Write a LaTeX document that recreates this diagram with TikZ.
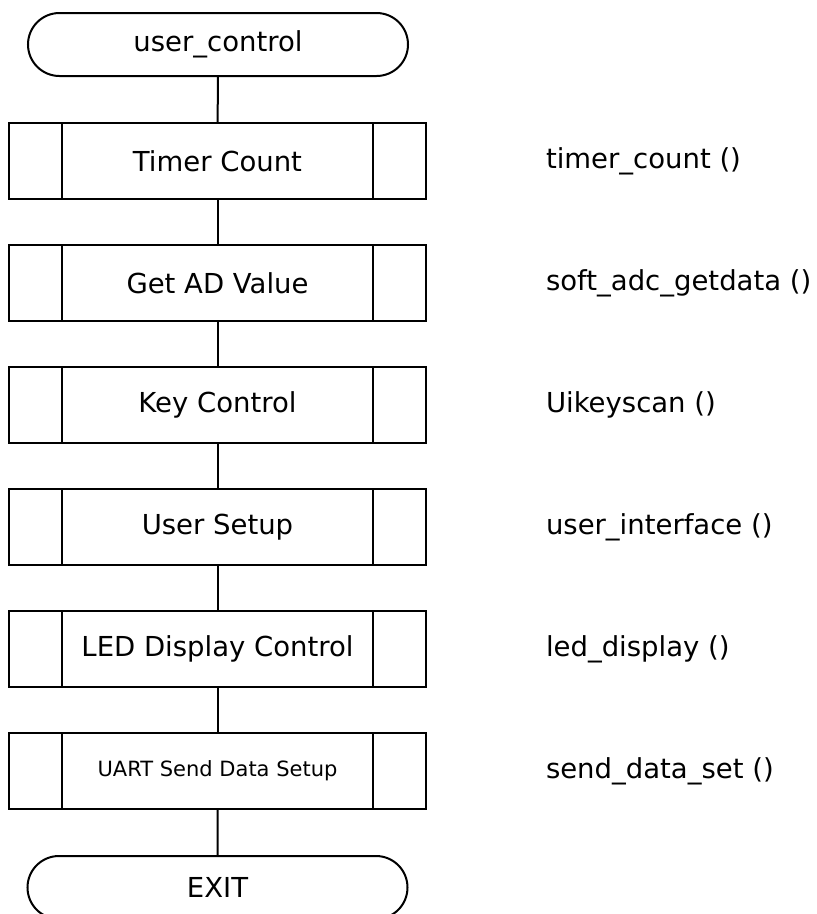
\documentclass[tikz,border=0pt]{standalone}
\usepackage{fontspec}
\setmainfont{DejaVu Sans}
\usetikzlibrary{shapes.misc}

\tikzset{
  term/.style={draw, rounded rectangle, minimum width=380pt, minimum height=63pt, inner sep=0pt},
  subr/.style={draw, rectangle, minimum width=417pt, minimum height=76pt, inner sep=0pt,
    path picture={\draw ([xshift=53pt]path picture bounding box.north west) -- ([xshift=53pt]path picture bounding box.south west);
                  \draw ([xshift=-53pt]path picture bounding box.north east) -- ([xshift=-53pt]path picture bounding box.south east);}},
  fname/.style={anchor=west, inner sep=0pt}
}

\begin{document}
\begin{tikzpicture}[x=1pt, y=-1pt, line width=2pt, font=\fontsize{27.5}{32}\selectfont]
\useasboundingbox (0,0) rectangle (817,914);

\node[term] (start) at (218,44.5) {user\_control};

\node[subr] (timer) at (217.5,161) {Timer Count};
\node[subr] (getad) at (217.5,283) {Get AD Value};
\node[subr] (key) at (217.5,405) {Key Control};
\node[subr] (setup) at (217.5,527) {User Setup};
\node[subr] (led) at (217.5,649) {LED Display Control};
\node[subr, font=\fontsize{21}{25}\selectfont] (uart) at (217.5,771) {UART Send Data Setup};

\node[term] (exit) at (217.5,887.5) {EXIT};

\node[fname] (ftimer) at (545,161) {timer\_count ()};
\node[fname] (fgetad) at (545,283) {soft\_adc\_getdata ()};
\node[fname] (fkey) at (545,405) {Uikeyscan ()};
\node[fname] (fsetup) at (545,527) {user\_interface ()};
\node[fname] (fled) at (545,649) {led\_display ()};
\node[fname] (fuart) at (545,771) {send\_data\_set ()};

\draw (start) -- (timer);
\draw (timer) -- (getad);
\draw (getad) -- (key);
\draw (key) -- (setup);
\draw (setup) -- (led);
\draw (led) -- (uart);
\draw (uart) -- (exit);

\end{tikzpicture}
\end{document}
